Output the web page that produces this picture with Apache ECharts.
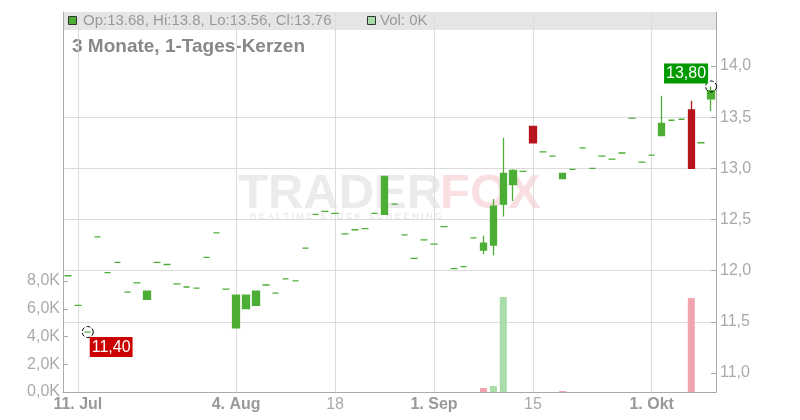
<!DOCTYPE html>
<html>
<head>
<meta charset="utf-8">
<script src="https://cdn.jsdelivr.net/npm/echarts@6/dist/echarts.min.js"></script>
<style>
  html, body { margin: 0; padding: 0; background: #fff; }
  #chart { width: 800px; height: 420px; }
</style>
</head>
<body>
<div id="chart"></div>
<script>
// Handelstage 10. Jul - 9. Okt
const dates = [
  '2025-07-10', '2025-07-11', '2025-07-14', '2025-07-15', '2025-07-16', '2025-07-17', '2025-07-18',
  '2025-07-21', '2025-07-22', '2025-07-23', '2025-07-24', '2025-07-25', '2025-07-28', '2025-07-29',
  '2025-07-30', '2025-07-31', '2025-08-01', '2025-08-04', '2025-08-05', '2025-08-06', '2025-08-07',
  '2025-08-08', '2025-08-11', '2025-08-12', '2025-08-13', '2025-08-14', '2025-08-15', '2025-08-18',
  '2025-08-19', '2025-08-20', '2025-08-21', '2025-08-22', '2025-08-25', '2025-08-26', '2025-08-27',
  '2025-08-28', '2025-08-29', '2025-09-01', '2025-09-02', '2025-09-03', '2025-09-04', '2025-09-05',
  '2025-09-08', '2025-09-09', '2025-09-10', '2025-09-11', '2025-09-12', '2025-09-15', '2025-09-16',
  '2025-09-17', '2025-09-18', '2025-09-19', '2025-09-22', '2025-09-23', '2025-09-24', '2025-09-25',
  '2025-09-26', '2025-09-29', '2025-09-30', '2025-10-01', '2025-10-02', '2025-10-03', '2025-10-06',
  '2025-10-07', '2025-10-08', '2025-10-09'
]

const opens = [
  11.95, 11.66, 11.40, 12.33, 11.98, 12.08, 11.79, 11.88, 11.72, 12.08, 12.06, 11.87, 11.84, 11.83,
  12.13, 12.37, 11.82, 11.44, 11.63, 11.66, 11.86, 11.78, 11.92, 11.90, 12.22, 12.55, 12.58, 12.56,
  12.36, 12.40, 12.41, 12.56, 12.55, 12.65, 12.35, 12.12, 12.30, 12.26, 12.43, 12.02, 12.04, 12.32,
  12.20, 12.25, 12.65, 12.84, 12.97, 13.41, 13.16, 13.12, 12.90, 12.99, 13.20, 13.00, 13.12, 13.09,
  13.15, 13.49, 13.06, 13.13, 13.32, 13.47, 13.48, 13.57, 13.25, 13.68
]
const closes = [
  11.95, 11.66, 11.40, 12.33, 11.98, 12.08, 11.79, 11.88, 11.80, 12.08, 12.06, 11.87, 11.84, 11.83,
  12.13, 12.37, 11.82, 11.76, 11.76, 11.80, 11.86, 11.78, 11.92, 11.90, 12.22, 12.55, 12.58, 12.56,
  12.36, 12.40, 12.41, 12.56, 12.92, 12.65, 12.35, 12.12, 12.30, 12.26, 12.43, 12.02, 12.04, 12.32,
  12.27, 12.63, 12.95, 12.98, 12.97, 13.25, 13.16, 13.12, 12.95, 12.99, 13.20, 13.00, 13.12, 13.09,
  13.15, 13.49, 13.06, 13.13, 13.44, 13.47, 13.48, 13.00, 13.25, 13.76
]
const lows = [
  11.95, 11.66, 11.40, 12.33, 11.98, 12.08, 11.79, 11.88, 11.72, 12.08, 12.06, 11.87, 11.84, 11.83,
  12.13, 12.37, 11.82, 11.44, 11.63, 11.66, 11.86, 11.78, 11.92, 11.90, 12.22, 12.55, 12.58, 12.56,
  12.36, 12.40, 12.41, 12.56, 12.55, 12.65, 12.35, 12.12, 12.30, 12.26, 12.43, 12.02, 12.04, 12.32,
  12.16, 12.15, 12.53, 12.68, 12.97, 13.25, 13.16, 13.12, 12.90, 12.99, 13.20, 13.00, 13.12, 13.09,
  13.15, 13.49, 13.06, 13.13, 13.32, 13.47, 13.48, 13.00, 13.25, 13.56
]
const highs = [
  11.95, 11.66, 11.40, 12.33, 11.98, 12.08, 11.79, 11.88, 11.80, 12.08, 12.06, 11.87, 11.84, 11.83,
  12.13, 12.37, 11.82, 11.76, 11.76, 11.80, 11.86, 11.78, 11.92, 11.90, 12.22, 12.55, 12.58, 12.56,
  12.36, 12.40, 12.41, 12.56, 12.92, 12.65, 12.35, 12.12, 12.30, 12.26, 12.43, 12.02, 12.04, 12.32,
  12.34, 12.70, 13.30, 12.99, 12.97, 13.41, 13.16, 13.12, 12.95, 12.99, 13.20, 13.00, 13.12, 13.09,
  13.15, 13.49, 13.06, 13.13, 13.71, 13.47, 13.48, 13.66, 13.25, 13.80
]
// Volumen in Tausend
const volumes = [
  0, 0, 0, 0, 0, 0, 0, 0, 0, 0, 0, 0, 0, 0,
  0, 0, 0, 0, 0, 0, 0, 0, 0, 0, 0, 0, 0, 0,
  0, 0, 0, 0, 0, 0, 0, 0, 0, 0, 0, 0, 0, 0,
  0.29, 0.43, 6.85, 0, 0, 0, 0, 0, 0.07, 0, 0, 0, 0, 0,
  0, 0, 0, 0, 0, 0, 0, 6.77, 0, 0
]

const tickDates = ['2025-07-11', '2025-08-04', '2025-08-18', '2025-09-01', '2025-09-15', '2025-10-01']
const tickLabels = ['11. Jul', '4. Aug', '18', '1. Sep', '15', '1. Okt']
const priceTicks = [11, 11.5, 12, 12.5, 13, 13.5, 14]
const volumeTicks = [0, 2, 4, 6, 8]

const GREEN = '#4cae34'
const RED = '#b5151b'
const VOL_UP = '#a8dca8'
const VOL_DOWN = '#f0a4ae'
const FONT = '"Liberation Sans", Arial, sans-serif'

const tickIdx = tickDates.map(d => dates.indexOf(d))
const candleData = dates.map((d, i) => [opens[i], closes[i], lows[i], highs[i]])
const volumeData = volumes.map((v, i) => ({
  value: v,
  itemStyle: { color: i > 0 && closes[i] < closes[i - 1] ? VOL_DOWN : VOL_UP }
}))

// Tief und Hoch markieren
const lowVal = Math.min(...lows)
const lowIdx = lows.indexOf(lowVal)
const highVal = Math.max(...highs)
const highIdx = highs.indexOf(highVal)
const fmt = (v, n) => v.toFixed(n).replace('.', ',')

const last = dates.length - 1
const headerText = 'Op:' + opens[last] + ', Hi:' + highs[last] + ', Lo:' + lows[last] + ', Cl:' + closes[last]

const chart = echarts.init(document.getElementById('chart'))

const option = {
  animation: false,
  textStyle: { fontFamily: FONT },
  grid: { left: 63, right: 84, top: 12, bottom: 28 },
  graphic: [
    { type: 'text', left: 238, top: 170, z: -1, style: { text: 'TRADER', font: 'bold 49px ' + FONT, fill: '#ebebeb' } },
    { type: 'text', left: 440, top: 170, z: -1, style: { text: 'FOX', font: 'bold 49px ' + FONT, fill: 'rgba(240,150,160,0.3)' } },
    { type: 'text', left: 250, top: 212, z: -1, style: { text: 'R E A L T I M E   S T O C K   S C R E E N I N G', font: '9px ' + FONT, fill: '#e4e4e4' } },
    { type: 'rect', shape: { x: 63, y: 12, width: 653, height: 18 }, style: { fill: 'rgba(0,0,0,0.1)' } },
    { type: 'rect', shape: { x: 68.5, y: 16.5, width: 8, height: 8 }, style: { fill: GREEN, stroke: '#333', lineWidth: 1 } },
    { type: 'text', x: 83, y: 21, style: { text: headerText, font: '15px ' + FONT, fill: '#999', verticalAlign: 'middle' } },
    { type: 'rect', shape: { x: 367.5, y: 16.5, width: 8, height: 8 }, style: { fill: VOL_UP, stroke: '#333', lineWidth: 1 } },
    { type: 'text', x: 380, y: 21, style: { text: 'Vol: ' + volumes[last] + 'K', font: '15px ' + FONT, fill: '#999', verticalAlign: 'middle' } },
    { type: 'text', x: 72, y: 47, style: { text: '3 Monate, 1-Tages-Kerzen', font: 'bold 19px ' + FONT, fill: '#888', verticalAlign: 'middle' } }
  ],
  xAxis: {
    type: 'category',
    data: dates,
    boundaryGap: true,
    axisLine: { lineStyle: { color: '#aaa' } },
    axisTick: {
      alignWithLabel: true,
      interval: (i) => tickIdx.includes(i),
      length: 4,
      lineStyle: { color: '#ccc' }
    },
    splitLine: {
      show: true,
      alignWithLabel: true,
      interval: (i) => tickIdx.includes(i),
      lineStyle: { color: '#dcdcdc' }
    },
    axisLabel: {
      interval: (i) => tickIdx.includes(i),
      margin: 5,
      formatter: (value) => {
        const t = tickLabels[tickDates.indexOf(value)]
        return t.indexOf(' ') >= 0 ? '{b|' + t + '}' : '{n|' + t + '}'
      },
      rich: {
        b: { fontSize: 16, fontWeight: 'bold', color: '#999', fontFamily: FONT },
        n: { fontSize: 16, color: '#aaa', fontFamily: FONT }
      }
    }
  },
  yAxis: [
    {
      type: 'value',
      position: 'left',
      min: 0,
      max: 27.39,
      axisLine: { show: true, lineStyle: { color: '#aaa' } },
      axisTick: { show: true, inside: true, length: 5, customValues: volumeTicks, lineStyle: { color: '#aaa' } },
      splitLine: { show: false },
      axisLabel: {
        customValues: volumeTicks,
        margin: 3,
        fontSize: 16,
        color: '#aaa',
        formatter: (v) => fmt(v, 1) + 'K'
      }
    },
    {
      type: 'value',
      position: 'right',
      min: 10.814,
      max: 14.528,
      splitNumber: 7,
      axisLine: { show: true, lineStyle: { color: '#aaa' } },
      axisTick: { show: true, inside: true, length: 5, customValues: priceTicks, lineStyle: { color: '#aaa' } },
      splitLine: { show: true, showMinLine: false, showMaxLine: false, lineStyle: { color: '#dcdcdc' } },
      axisLabel: {
        customValues: priceTicks,
        margin: 4,
        fontSize: 16,
        color: '#aaa',
        formatter: (v) => fmt(v, 1)
      }
    }
  ],
  series: [
    {
      name: 'Vol',
      type: 'bar',
      yAxisIndex: 0,
      barWidth: 7,
      data: volumeData,
      z: 1
    },
    {
      name: 'Kurs',
      type: 'candlestick',
      yAxisIndex: 1,
      barWidth: 7,
      data: candleData,
      itemStyle: {
        color: GREEN,
        color0: RED,
        borderColor: GREEN,
        borderColor0: RED,
        borderColorDoji: GREEN,
        borderWidth: 1.3
      },
      markPoint: {
        symbol: 'circle',
        symbolSize: 11,
        itemStyle: { color: 'rgba(255,255,255,0)', borderColor: '#000', borderWidth: 1, borderType: 'dashed' },
        label: { show: true, fontSize: 16, color: '#fff', padding: [2, 2, 1, 2], lineHeight: 17, fontFamily: FONT },
        data: [
          {
            coord: [dates[lowIdx], lowVal],
            label: { formatter: fmt(lowVal, 2), backgroundColor: '#cc0000', position: [8, 11] }
          },
          {
            coord: [dates[highIdx], highVal],
            label: { formatter: fmt(highVal, 2), backgroundColor: '#009900', position: [-41, -17] }
          }
        ]
      }
    }
  ]
}

chart.setOption(option)
</script>
</body>
</html>
